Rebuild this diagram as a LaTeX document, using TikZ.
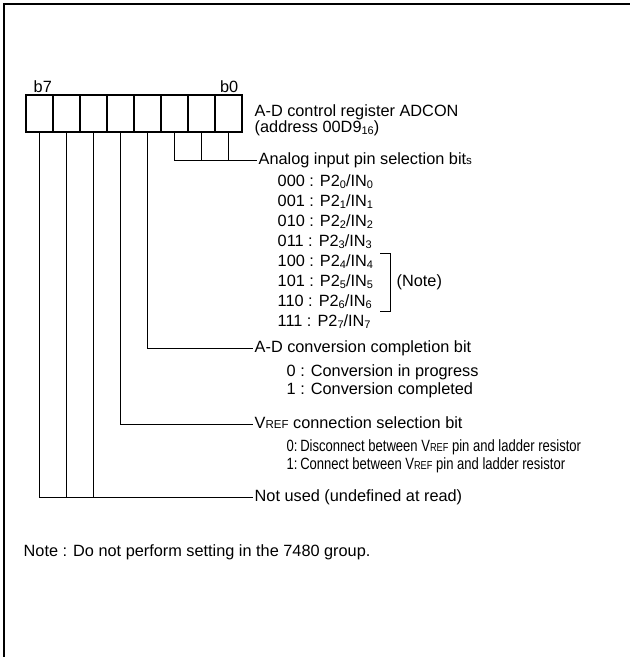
\documentclass[tikz,border=0pt]{standalone}
\usepackage{fontspec}
\setmainfont{Liberation Sans}
\newfontfamily\condfont{Liberation Sans}[FakeStretch=0.8]
\usepackage{tikz}
\usetikzlibrary{positioning,calc}
\newcommand{\lo}[1]{\raisebox{-0.2ex}{\fontsize{11pt}{11pt}\selectfont #1}}
\newcommand{\sm}[1]{{\fontsize{11.5pt}{11.5pt}\selectfont #1}}
\tikzset{
  cell/.style={draw, line width=1.1pt, minimum width=27pt, minimum height=37pt,
               inner sep=0pt, outer sep=0pt},
  lbl/.style={inner sep=1.5pt, anchor=west, font=\fontsize{16.3pt}{17pt}\selectfont,
              text height=12.5pt, text depth=3pt},
  cond/.style={lbl, font=\condfont\fontsize{16.3pt}{17pt}\selectfont},
  lead/.style={draw, line width=0.9pt},
  rim/.style={draw, line width=2.2pt}
}

\begin{document}
\begin{tikzpicture}[x=1pt,y=-1pt]
  \useasboundingbox (0,0) rectangle (630,657);
  \draw[rim] (4.3,657) -- (4.3,3.7) -- (630,3.7);

  \foreach \i in {0,...,7}
    \node[cell] (bit\i) at ({39.5+27*(7-\i)},113.5) {};
  \node[lbl, anchor=base west] (lb7) at ([shift={(6,-2.5)}]bit7.north west) {b7};
  \node[lbl, anchor=base east] (lb0) at ([shift={(-2,-2.5)}]bit0.north east) {b0};

  \node[lbl] (reg) at (253,112) {A-D control register ADCON};
  \node[lbl, below=-3pt of reg.south west, anchor=north west] (adr) {(address 00D9\lo{16})};

  \node[lbl] (sel) at (257,160) {Analog input pin selection bit\sm{s}};
  \draw[lead] (bit2.south) |- (sel.west);
  \draw[lead] (bit1.south) -- (bit1.south |- sel.west);
  \draw[lead] (bit0.south) -- (bit0.south |- sel.west);
  \foreach \c [count=\k from 0] in {000,001,010,011,100,101,110,111}
    \node[lbl] (pin\k) at (276,{182+20*\k}) {\c{} : P2\lo{\k}/IN\lo{\k}};
  \draw[lead] (380,253) -- (390,253) -- (390,311) -- (380,311);
  \node[lbl] (nt) at (395,282) {(Note)};

  \node[lbl] (adf) at (253,348) {A-D conversion completion bit};
  \draw[lead] (bit3.south) |- (adf.west);
  \node[lbl] (adf0) at (285,372) {0 : Conversion in progress};
  \node[lbl, below=-1pt of adf0.south west, anchor=north west] (adf1) {1 : Conversion completed};

  \node[lbl] (vrs) at (253,424) {V\sm{REF} connection selection bit};
  \draw[lead] (bit4.south) |- (vrs.west);
  \node[cond] (vrs0) at (285,447) {0:\,Disconnect between V\sm{REF} pin and ladder resistor};
  \node[cond, below=-1pt of vrs0.south west, anchor=north west] (vrs1) {1:\,Connect between V\sm{REF} pin and ladder resistor};

  \node[lbl] (nu) at (253,497) {Not used (undefined at read)};
  \draw[lead] (bit7.south) |- (nu.west);
  \draw[lead] (bit6.south) -- (bit6.south |- nu.west);
  \draw[lead] (bit5.south) -- (bit5.south |- nu.west);

  \node[lbl] (ftn) at (22,552) {Note : Do not perform setting in the 7480 group.};
\end{tikzpicture}
\end{document}
